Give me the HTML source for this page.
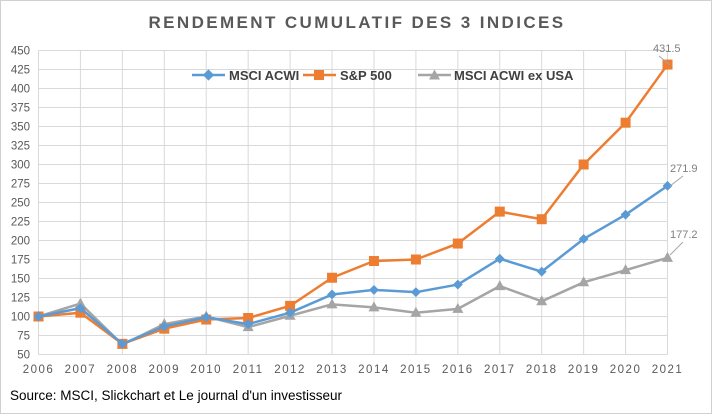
<!DOCTYPE html>
<html><head><meta charset="utf-8"><style>
body{margin:0;background:#fff}
svg{display:block;font-family:"Liberation Sans",sans-serif}
</style></head><body>
<svg width="714" height="415" viewBox="0 0 714 415" xmlns="http://www.w3.org/2000/svg">
<rect x="0.5" y="0.5" width="711" height="413" fill="#fff" stroke="#d0d0d0"/>
<text x="357" y="28" text-anchor="middle" font-size="17" font-weight="bold" fill="#595959" letter-spacing="2.4">RENDEMENT CUMULATIF DES 3 INDICES</text>
<g id="grid" stroke="#d9d9d9" stroke-width="1"></g>
<g id="ylab" font-size="11.5" fill="#595959" text-anchor="end"></g>
<g id="xlab" font-size="11.5" fill="#595959" text-anchor="middle" letter-spacing="1.5"></g>
<g id="series"></g>
<g font-size="13" fill="#404040" font-weight="bold">
<line x1="192" y1="75" x2="225" y2="75" stroke="#5b9bd5" stroke-width="2.5"/><rect x="204.5" y="71" width="8" height="8" fill="#5b9bd5" transform="rotate(45 208.5 75)"/>
<text x="229" y="80">MSCI ACWI</text>
<line x1="303" y1="75" x2="336" y2="75" stroke="#ed7d31" stroke-width="2.5"/><rect x="314" y="70" width="10" height="10" fill="#ed7d31"/>
<text x="340" y="80">S&amp;P 500</text>
<line x1="418" y1="75" x2="451" y2="75" stroke="#a5a5a5" stroke-width="2.5"/><polygon points="434.5,69.5 440,79.5 429,79.5" fill="#a5a5a5"/>
<text x="454" y="80">MSCI ACWI ex USA</text>
</g>
<g font-size="11" fill="#7f7f7f">
<text x="653" y="52">431.5</text><line x1="659" y1="56" x2="670" y2="65" stroke="#a5a5a5"/>
<text x="670" y="172">271.9</text><line x1="683" y1="176" x2="670" y2="186" stroke="#a5a5a5"/>
<text x="670" y="238">177.2</text><line x1="683" y1="242" x2="670" y2="255" stroke="#a5a5a5"/>
</g>
<text x="10" y="400" font-size="13.5" fill="#000">Source: MSCI, Slickchart et Le journal d'un investisseur</text>
</svg>
<script>
const ns="http://www.w3.org/2000/svg";
const X0=38.5,DX=(667.5-38.5)/15,Y=v=>50.5+(450-v)*0.76;
const g=document.getElementById('grid'),yl=document.getElementById('ylab'),xl=document.getElementById('xlab'),s=document.getElementById('series');
function el(p,t,a){const e=document.createElementNS(ns,t);for(const k in a)e.setAttribute(k,a[k]);p.appendChild(e);return e;}
for(let v=50;v<=450;v+=25){el(g,'line',{x1:X0,x2:667.5,y1:Y(v),y2:Y(v)});el(yl,'text',{x:30,y:Y(v)+4}).textContent=v;}
for(let i=0;i<16;i++){const x=X0+i*DX;el(g,'line',{x1:x,x2:x,y1:Y(450),y2:Y(50)});el(xl,'text',{x:x,y:373}).textContent=2006+i;}
const d={
a:[100,111,64,87,99,90,105,129,135,132,142,176,159,202,234,271.9],
s:[100,105,64,84,96,98,114,151,173,175,196,238,228,300,355,431.5],
e:[100,117,63,90,100,86,101,116,112,105,110,140,120,145,161,177.2]};
function line(arr,c,m){const pts=arr.map((v,i)=>[X0+i*DX,Y(v)]);
el(s,'polyline',{points:pts.map(p=>p.join(',')).join(' '),fill:'none',stroke:c,'stroke-width':2.5,'stroke-linejoin':'round'});
pts.forEach(([x,y])=>{if(m=='d')el(s,'rect',{x:x-3.5,y:y-3.5,width:7,height:7,fill:c,transform:`rotate(45 ${x} ${y})`});
else if(m=='s')el(s,'rect',{x:x-5,y:y-5,width:10,height:10,fill:c});
else el(s,'polygon',{points:`${x},${y-6} ${x+5.5},${y+4} ${x-5.5},${y+4}`,fill:c});});}
line(d.e,'#a5a5a5','t');line(d.s,'#ed7d31','s');line(d.a,'#5b9bd5','d');
</script>
</body></html>
